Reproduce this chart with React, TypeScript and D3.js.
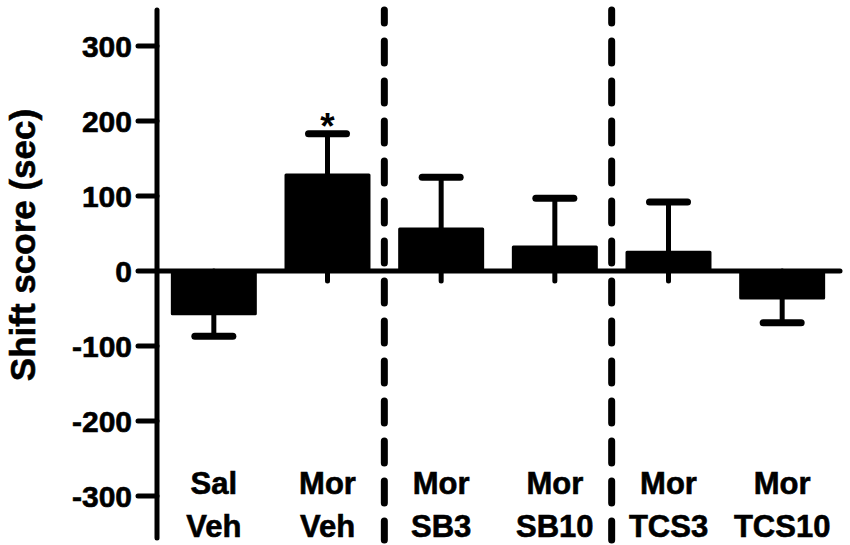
import * as d3 from "d3";
import { useEffect, useRef } from "react";

const groups = ["Sal Veh", "Mor Veh", "Mor SB3", "Mor SB10", "Mor TCS3", "Mor TCS10"];
const means = [-57, 128, 56, 32, 25, -36];
const sems = [30, 55, 69, 65, 67, 33];
const yTicks = [-300, -200, -100, 0, 100, 200, 300];
// dashed separators sit after these groups
const separatorsAfter = [1, 3];
const starred = ["Mor Veh"];

const width = 850;
const height = 545;
const font = "'Liberation Sans', Arial, sans-serif";

function ShiftChart() {
  const ref = useRef<SVGSVGElement>(null);

  useEffect(() => {
    const svg = d3.select(ref.current);
    svg.selectAll("*").remove();

    const x = d3
      .scaleBand()
      .domain(groups)
      .range([157, 839])
      .paddingInner(0.27)
      .paddingOuter(0.135);
    const y = d3.scaleLinear().domain([-300, 300]).range([496, 46]);

    const g = svg
      .append("g")
      .attr("font-family", font)
      .attr("font-weight", "bold");

    // dashed separators
    separatorsAfter.forEach((i) => {
      const sx = (x(groups[i])! + x.bandwidth() + x(groups[i + 1])!) / 2;
      g.append("line")
        .attr("x1", sx)
        .attr("x2", sx)
        .attr("y1", 10)
        .attr("y2", 540)
        .attr("stroke", "#000")
        .attr("stroke-width", 7)
        .attr("stroke-linecap", "round")
        .attr("stroke-dasharray", "22 18")
        .attr("stroke-dashoffset", 9);
    });

    const label = (sel: any) =>
      sel.attr("fill", "#000").attr("stroke", "#000").attr("stroke-width", 0.6);

    // bars
    groups.forEach((name, i) => {
      const bx = x(name)!;
      const cx = bx + x.bandwidth() / 2;
      const v = means[i];
      const top = y(Math.max(0, v));
      const bottom = y(Math.min(0, v));
      g.append("rect")
        .attr("x", bx)
        .attr("y", top)
        .attr("width", x.bandwidth())
        .attr("height", bottom - top)
        .attr("fill", "#000")
        .attr("stroke", "#000")
        .attr("stroke-width", 3)
        .attr("stroke-linejoin", "round");

      const end = v >= 0 ? v + sems[i] : v - sems[i];
      g.append("line")
        .attr("x1", cx)
        .attr("x2", cx)
        .attr("y1", y(v))
        .attr("y2", y(end))
        .attr("stroke", "#000")
        .attr("stroke-width", 5);
      g.append("line")
        .attr("x1", cx - 19)
        .attr("x2", cx + 19)
        .attr("y1", y(end))
        .attr("y2", y(end))
        .attr("stroke", "#000")
        .attr("stroke-width", 7)
        .attr("stroke-linecap", "round");

      // category tick below the baseline
      g.append("line")
        .attr("x1", cx)
        .attr("x2", cx)
        .attr("y1", y(0))
        .attr("y2", y(0) + 10)
        .attr("stroke", "#000")
        .attr("stroke-width", 5)
        .attr("stroke-linecap", "round");

      if (starred.includes(name)) {
        g.append("text")
          .attr("x", cx)
          .attr("y", y(end) + 5)
          .attr("text-anchor", "middle")
          .attr("font-size", 37)
          .text("*");
      }

      const [l1, l2] = name.split(" ");
      label(
        g
          .append("text")
          .attr("x", cx)
          .attr("y", 494)
          .attr("text-anchor", "middle")
          .attr("font-size", 31)
          .text(l1)
      );
      label(
        g
          .append("text")
          .attr("x", cx)
          .attr("y", 537)
          .attr("text-anchor", "middle")
          .attr("font-size", 31)
          .text(l2)
      );
    });

    // baseline
    g.append("line")
      .attr("x1", 157)
      .attr("x2", 840)
      .attr("y1", y(0))
      .attr("y2", y(0))
      .attr("stroke", "#000")
      .attr("stroke-width", 5)
      .attr("stroke-linecap", "round");

    // y axis
    g.append("line")
      .attr("x1", 157)
      .attr("x2", 157)
      .attr("y1", 10)
      .attr("y2", 538)
      .attr("stroke", "#000")
      .attr("stroke-width", 5)
      .attr("stroke-linecap", "round");

    yTicks.forEach((t) => {
      g.append("line")
        .attr("x1", 138)
        .attr("x2", 157)
        .attr("y1", y(t))
        .attr("y2", y(t))
        .attr("stroke", "#000")
        .attr("stroke-width", 5)
        .attr("stroke-linecap", "round");
      label(
        g
          .append("text")
          .attr("x", 132)
          .attr("y", y(t))
          .attr("dy", "0.36em")
          .attr("text-anchor", "end")
          .attr("font-size", 30)
          .text(t)
      );
    });

    label(
      g
        .append("text")
        .attr("transform", `translate(35,${(110 + 380) / 2}) rotate(-90)`)
        .attr("text-anchor", "middle")
        .attr("font-size", 35)
        .text("Shift score (sec)")
    );
  }, []);

  return (
    <svg
      ref={ref}
      width={width}
      height={height}
      style={{ position: "absolute", left: 0, top: 0, background: "#fff" }}
    />
  );
}

export default function App() {
  return <ShiftChart />;
}
